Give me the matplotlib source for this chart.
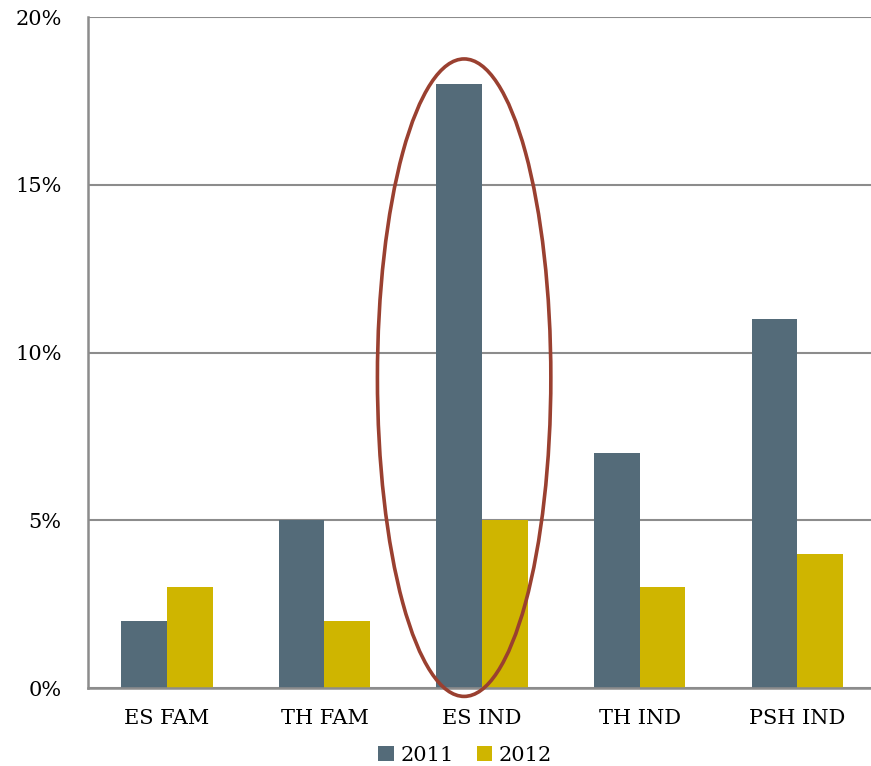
import matplotlib.pyplot as plt
import numpy as np
from matplotlib.patches import Ellipse

categories = ["ES FAM", "TH FAM", "ES IND", "TH IND", "PSH IND"]
vals_2011 = [2, 5, 18, 7, 11]
vals_2012 = [3, 2, 5, 3, 4]
yticks = [0, 5, 10, 15, 20]

C2011 = "#546b79"
C2012 = "#cfb500"
GRID = "#8c8c8c"

plt.rcParams['font.family'] = ['DejaVu Serif']

fig = plt.figure(figsize=(8.71, 7.66), dpi=100)
ax = fig.add_axes([0.101, 0.1018, 0.905, 0.876])

x = np.arange(len(categories))
w = 0.29
ax.bar(x - w / 2, vals_2011, w, color=C2011, label="2011", zorder=3)
ax.bar(x + w / 2, vals_2012, w, color=C2012, label="2012", zorder=3)

ax.set_xlim(-0.5, len(categories) - 0.5)
ax.set_ylim(0, 20)
ax.set_yticks(yticks)
ax.set_yticklabels([f"{t}%" for t in yticks], fontsize=15)
ax.set_xticks(x)
ax.set_xticklabels(categories, fontsize=15)
ax.tick_params(axis='both', length=0)
ax.tick_params(axis='y', pad=19)
ax.tick_params(axis='x', pad=15)

ax.yaxis.grid(True, color=GRID, lw=1.5, zorder=0)
for s in ["top", "right"]:
    ax.spines[s].set_visible(False)
for s in ["left", "bottom"]:
    ax.spines[s].set_color(GRID)
    ax.spines[s].set_linewidth(1.8)
    ax.spines[s].set_zorder(4)

# highlight ellipse around ES IND
ell = Ellipse((1.886, 9.25), 1.10, 19.0, fill=False, edgecolor="#9a4030",
              lw=2.6, clip_on=False, zorder=5)
ax.add_patch(ell)

fig.legend(loc="lower center", bbox_to_anchor=(0.534, -0.023), ncol=2,
           frameon=False, fontsize=15, handlelength=0.75, handleheight=0.75,
           handletextpad=0.3, columnspacing=1.1)

fig.savefig("out.png", dpi=100)
